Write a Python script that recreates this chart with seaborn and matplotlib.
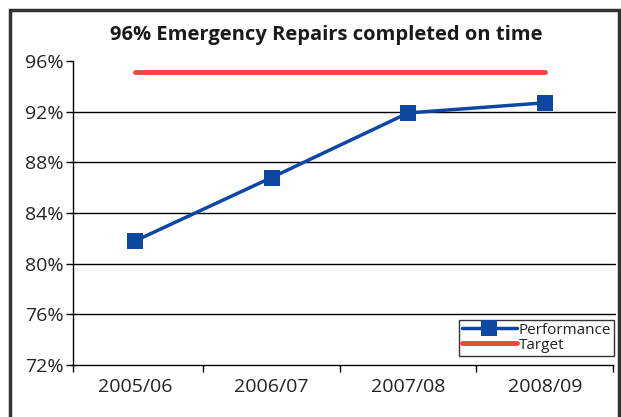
import pandas as pd
import matplotlib.pyplot as plt
import seaborn as sns
from matplotlib.patches import Rectangle
from matplotlib.ticker import FixedLocator, FuncFormatter

# Data
years = ['2005/06', '2006/07', '2007/08', '2008/09']
performance = [81.8, 86.8, 91.9, 92.7]
target = [95.1, 95.1, 95.1, 95.1]

df = pd.DataFrame({'year': years, 'Performance': performance, 'Target': target})
df['pos'] = range(len(years))

sns.set_style('white')
plt.rcParams['font.family'] = ['Open Sans', 'DejaVu Sans']

fig = plt.figure(figsize=(6.21, 4.17), dpi=100)
ax = fig.add_axes([73 / 621, 52 / 417, 540 / 621, 304 / 417])

# outer frame around the whole chart
fig.patches.append(Rectangle((10 / 621, -0.1), 609 / 621, 1.1 - 10 / 417,
                             transform=fig.transFigure, fill=False,
                             edgecolor='#333333', linewidth=2.5))

sns.lineplot(data=df, x='pos', y='Performance', ax=ax, color='#0D47A1',
             linewidth=2.5, marker='s', markersize=11, markeredgewidth=0,
             label='Performance')
sns.lineplot(data=df, x='pos', y='Target', ax=ax, color='#F0483C',
             linewidth=3.5, label='Target')

ax.set_xlim(-0.455, 3.5)
ax.set_ylim(72, 96)
ax.set_yticks([72, 76, 80, 84, 88, 92, 96])
ax.yaxis.set_major_formatter(FuncFormatter(lambda v, p: f'{v:.0f}%'))
for y in [76, 80, 84, 88, 92]:
    ax.axhline(y, color='black', linewidth=1, zorder=0, xmax=1.004, clip_on=False)

ax.set_xticks(df['pos'])
ax.set_xticklabels(years)
ax.xaxis.set_minor_locator(FixedLocator([-0.455, 0.5, 1.5, 2.5, 3.5]))
ax.tick_params(axis='x', which='major', length=0, labelsize=14, pad=9, colors='#222222')
ax.tick_params(axis='x', which='minor', bottom=True, length=5, width=1, color='black')
ax.tick_params(axis='y', left=True, length=5, width=1, labelsize=14, color='black',
               labelcolor='#222222', pad=2)

for s in ['top', 'right']:
    ax.spines[s].set_visible(False)
for s in ['left', 'bottom']:
    ax.spines[s].set_color('black')
    ax.spines[s].set_linewidth(1)
ax.set_xlabel('')
ax.set_ylabel('')

fig.text(326 / 621, 1 - 35 / 417, '96% Emergency Repairs completed on time',
         ha='center', va='center', fontsize=14.5, fontweight='bold', color='#1a1a1a')

leg = ax.legend(loc='lower right', bbox_to_anchor=(1.002, 0.03), fontsize=11,
                frameon=True, fancybox=False, handlelength=3.6, handletextpad=0.1,
                borderpad=0.2, labelspacing=0.0, borderaxespad=0)
leg.get_frame().set_edgecolor('black')
leg.get_frame().set_linewidth(1)
for t in leg.get_texts():
    t.set_color('#222222')

plt.savefig('out.png', dpi=100)
